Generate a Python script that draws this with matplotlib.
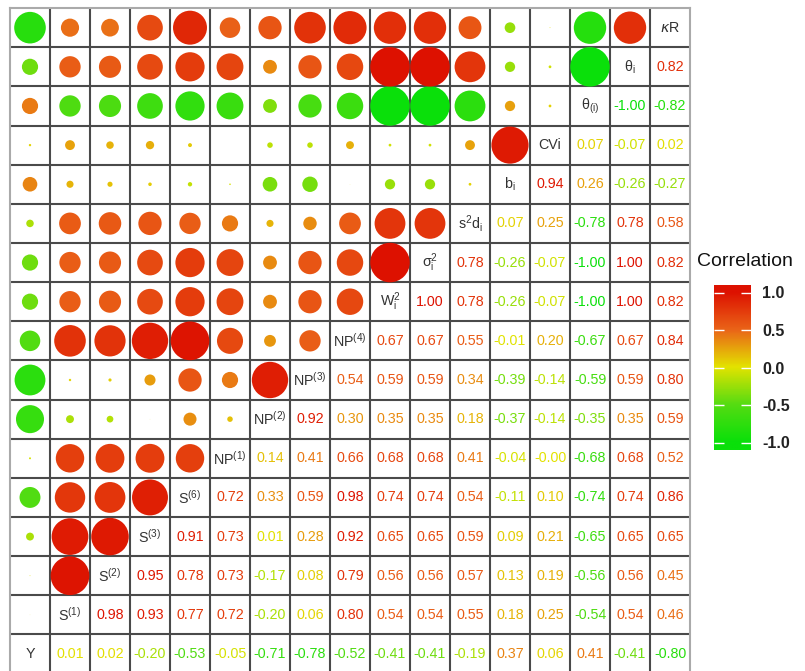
import numpy as np
import matplotlib
matplotlib.use("Agg")
import matplotlib.pyplot as plt
from matplotlib.colors import LinearSegmentedColormap, Normalize

plt.rcParams['font.family'] = ['Liberation Sans', 'DejaVu Sans']
plt.rcParams['mathtext.default'] = 'regular'

# variable labels, bottom-left to top-right
labels = ["Y", "S$^{(1)}$", "S$^{(2)}$", "S$^{(3)}$", "S$^{(6)}$",
          "NP$^{(1)}$", "NP$^{(2)}$", "NP$^{(3)}$", "NP$^{(4)}$",
          "W$_i^2$", "σ$^2_i$", "s$^2$d$_i$", "b$_i$", "CVi",
          "θ$_{(i)}$", "θ$_i$", "$\\mathit{κ}$R"]

# correlations of each variable with the ones after it
r_Y = [0.01, 0.02, -0.20, -0.53, -0.05, -0.71, -0.78, -0.52, -0.41, -0.41, -0.19, 0.37, 0.06, 0.41, -0.41, -0.80]
r_S1 = [0.98, 0.93, 0.77, 0.72, -0.20, 0.06, 0.80, 0.54, 0.54, 0.55, 0.18, 0.25, -0.54, 0.54, 0.46]
r_S2 = [0.95, 0.78, 0.73, -0.17, 0.08, 0.79, 0.56, 0.56, 0.57, 0.13, 0.19, -0.56, 0.56, 0.45]
r_S3 = [0.91, 0.73, 0.01, 0.28, 0.92, 0.65, 0.65, 0.59, 0.09, 0.21, -0.65, 0.65, 0.65]
r_S6 = [0.72, 0.33, 0.59, 0.98, 0.74, 0.74, 0.54, -0.11, 0.10, -0.74, 0.74, 0.86]
r_NP1 = [0.14, 0.41, 0.66, 0.68, 0.68, 0.41, -0.04, -0.00, -0.68, 0.68, 0.52]
r_NP2 = [0.92, 0.30, 0.35, 0.35, 0.18, -0.37, -0.14, -0.35, 0.35, 0.59]
r_NP3 = [0.54, 0.59, 0.59, 0.34, -0.39, -0.14, -0.59, 0.59, 0.80]
r_NP4 = [0.67, 0.67, 0.55, -0.01, 0.20, -0.67, 0.67, 0.84]
r_W = [1.00, 0.78, -0.26, -0.07, -1.00, 1.00, 0.82]
r_sig = [0.78, -0.26, -0.07, -1.00, 1.00, 0.82]
r_s2d = [0.07, 0.25, -0.78, 0.78, 0.58]
r_b = [0.94, 0.26, -0.26, -0.27]
r_CV = [0.07, -0.07, 0.02]
r_thp = [-1.00, -0.82]
r_th = [0.82]

rows = [r_Y, r_S1, r_S2, r_S3, r_S6, r_NP1, r_NP2, r_NP3, r_NP4,
        r_W, r_sig, r_s2d, r_b, r_CV, r_thp, r_th]
n = len(labels)

cmap = LinearSegmentedColormap.from_list(
    "gyr", [(0.0, '#0ae00a'), (0.25, '#55dc12'), (0.5, '#e3e300'),
            (0.75, '#ea6418'), (1.0, '#dd1100')])
norm = Normalize(-1, 1)

fig = plt.figure(figsize=(8.05, 6.71), dpi=100)
ax = fig.add_axes([10/805, -2.6/671, 680/805, 665.5/671])
ax.set_xlim(0, n)
ax.set_ylim(0, n)

cx, cy, cv = [], [], []
for i, vals in enumerate(rows):
    for k, v in enumerate(vals):
        j = i + 1 + k
        # number in lower-right triangle
        ax.text(j + 0.5, i + 0.5, "%.2f" % v, ha='center', va='center',
                fontsize=10.3, color=cmap(norm(v)))
        # circle in upper-left triangle
        cx.append(i + 0.5)
        cy.append(j + 0.5)
        cv.append(v)

cv = np.array(cv)
sizes = (39.5 * np.abs(cv) * 0.72) ** 2
ax.scatter(cx, cy, s=sizes, c=cv, cmap=cmap, norm=norm, linewidths=0, zorder=3)

for k, lab in enumerate(labels):
    ax.text(k + 0.5, k + 0.5, lab, ha='center', va='center',
            fontsize=10.3, color='#333333')

# cell borders
for k in range(1, n):
    ax.axhline(k, color='#4a4a4a', lw=1.5, zorder=1)
    ax.axvline(k, color='#4a4a4a', lw=1.5, zorder=1)
for s in ax.spines.values():
    s.set_color('#aaaaaa')
    s.set_linewidth(1.5)
ax.set_xticks([])
ax.set_yticks([])

# colour legend
cax = fig.add_axes([714/805, 1 - 450/671, 37/805, 165/671])
grad = np.linspace(-1.1, 1.1, 256).reshape(-1, 1)
cax.imshow(grad, cmap=cmap, norm=norm, extent=[0, 1, -1.1, 1.1],
           aspect='auto', origin='lower')
cax.set_xlim(0, 1)
cax.set_ylim(-1.1, 1.1)
cax.set_xticks([])
cax.set_yticks([-1, -0.5, 0, 0.5, 1])
cax.set_yticklabels(["-1.0", "-0.5", "0.0", "0.5", "1.0"], fontweight='bold')
cax.tick_params(axis='y', direction='in', length=7, width=1, colors='white',
                left=True, right=True, labelleft=False, labelright=True,
                labelsize=11.5, pad=8, labelcolor='#222222')
for s in cax.spines.values():
    s.set_visible(False)
fig.text(697/805, 1 - 261/671, "Correlation", fontsize=14, va='center',
         color='#111111')

fig.savefig("out.png", dpi=100)
